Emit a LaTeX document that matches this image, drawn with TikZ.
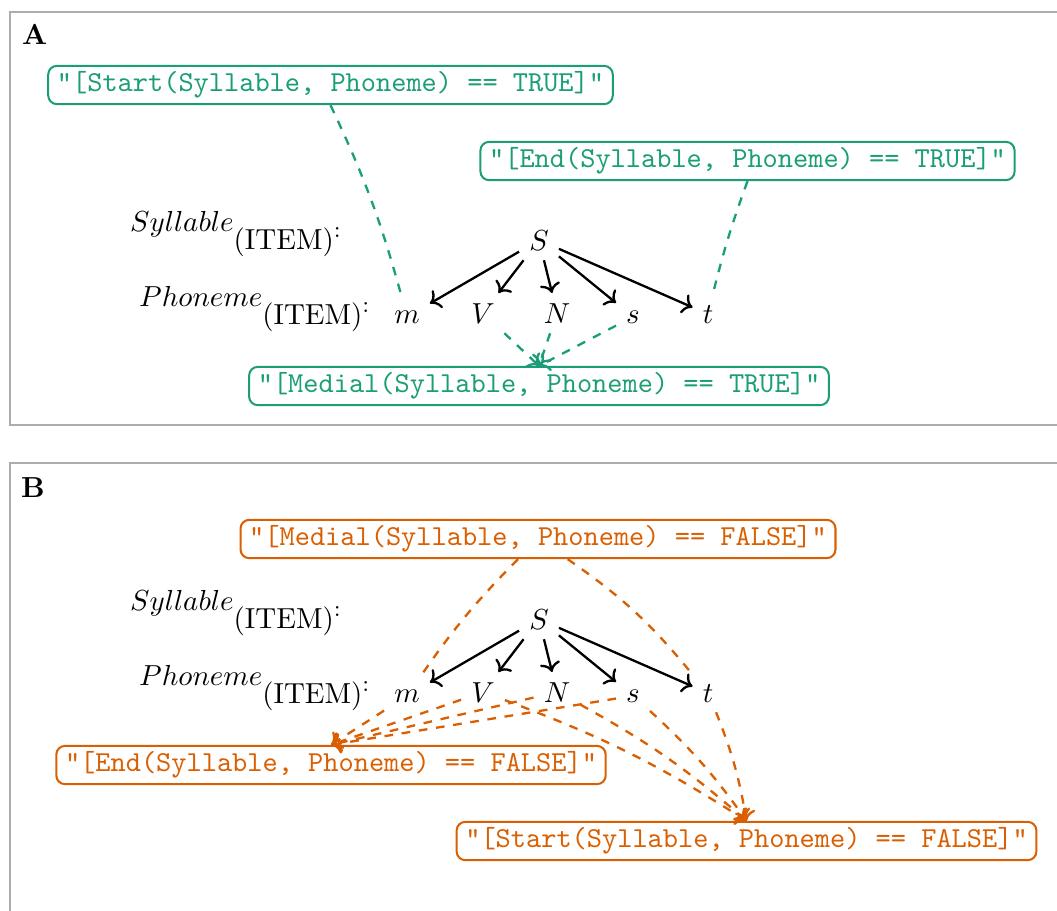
\documentclass[tikz,border=0pt]{standalone}
\usepackage{fontspec}
\usetikzlibrary{arrows.meta}
\definecolor{dgreen}{HTML}{1B9E77}
\definecolor{dorange}{HTML}{D95F02}
\tikzset{
	panel/.style={draw=black!32, line width=0.45pt},
	tagbox/.style={draw, rounded corners=3pt, line width=0.7pt, font=\ttfamily, inner xsep=3pt, inner ysep=2pt},
	seg/.style={anchor=base},
	tree/.style={->, thick},
	link/.style={dashed, thick},
}
\newcommand{\lvl}[1]{\raisebox{5.9pt}{$#1$}(ITEM)\raisebox{4pt}{\footnotesize :}}

\begin{document}
\begin{tikzpicture}[x=0.3454pt, y=-0.3454pt]
	\useasboundingbox (0,0) rectangle (1057,910);
	\draw[panel] (10,12) rectangle (1080,425);
	\draw[panel] (10,463) rectangle (1080,940);
	\node[anchor=base west, font=\bfseries] (labA) at (12,44) {A};
	\node[anchor=base west, font=\bfseries] (labB) at (11,497) {B};

	\node[anchor=base west] (sylA) at (120,249) {\lvl{Syllable}};
	\node[anchor=base west] (phoA) at (129,324) {\lvl{Phoneme}};
	\node[seg] (SA) at (539,250) {$S$};
	\node[seg] (mA) at (407,323) {$m$};
	\node[seg] (VA) at (483,323) {$V$};
	\node[seg] (NA) at (557,323) {$N$};
	\node[seg] (sA) at (633,323) {$s$};
	\node[seg] (tA) at (708,323) {$t$};
	\draw[tree] (SA)--(mA);
	\draw[tree] (SA)--(VA);
	\draw[tree] (SA)--(NA);
	\draw[tree] (SA)--(sA);
	\draw[tree] (SA)--(tA);
	\node[tagbox, dgreen] (startT) at (330.5,85) {"[Start(Syllable, Phoneme) == TRUE]"};
	\node[tagbox, dgreen] (endT) at (747.5,161) {"[End(Syllable, Phoneme) == TRUE]"};
	\node[tagbox, dgreen] (medT) at (539,386) {"[Medial(Syllable, Phoneme) == TRUE]"};
	\draw[link, dgreen] (startT.south) to[bend left=5] (mA);
	\draw[link, dgreen] (endT.south) to[bend right=3] (tA);
	\draw[link, dgreen, ->] (VA)--(medT.north);
	\draw[link, dgreen, ->] (NA)--(medT.north);
	\draw[link, dgreen, ->] (sA)--(medT.north);

	\node[anchor=base west] (sylB) at (120,628) {\lvl{Syllable}};
	\node[anchor=base west] (phoB) at (129,703) {\lvl{Phoneme}};
	\node[seg] (SB) at (539,629) {$S$};
	\node[seg] (mB) at (407,702) {$m$};
	\node[seg] (VB) at (483,702) {$V$};
	\node[seg] (NB) at (557,702) {$N$};
	\node[seg] (sB) at (633,702) {$s$};
	\node[seg] (tB) at (708,702) {$t$};
	\draw[tree] (SB)--(mB);
	\draw[tree] (SB)--(VB);
	\draw[tree] (SB)--(NB);
	\draw[tree] (SB)--(sB);
	\draw[tree] (SB)--(tB);
	\node[tagbox, dorange] (medF) at (538,539) {"[Medial(Syllable, Phoneme) == FALSE]"};
	\node[tagbox, dorange] (endF) at (331,765) {"[End(Syllable, Phoneme) == FALSE]"};
	\node[tagbox, dorange] (startF) at (746.5,841) {"[Start(Syllable, Phoneme) == FALSE]"};
	\draw[link, dorange] (medF) to[bend right=5] (mB);
	\draw[link, dorange] (medF) to[bend left=8] (tB);
	\draw[link, dorange, ->] (mB)--(endF.north);
	\draw[link, dorange, ->] (VB)--(endF.north);
	\draw[link, dorange, ->] (NB)--(endF.north);
	\draw[link, dorange, ->] (sB)--(endF.north);
	\draw[link, dorange, ->] (VB) to[bend left=6] (startF.north);
	\draw[link, dorange, ->] (NB) to[bend left=6] (startF.north);
	\draw[link, dorange, ->] (sB) to[bend left=6] (startF.north);
	\draw[link, dorange, ->] (tB) to[bend left=6] (startF.north);
\end{tikzpicture}
\end{document}
